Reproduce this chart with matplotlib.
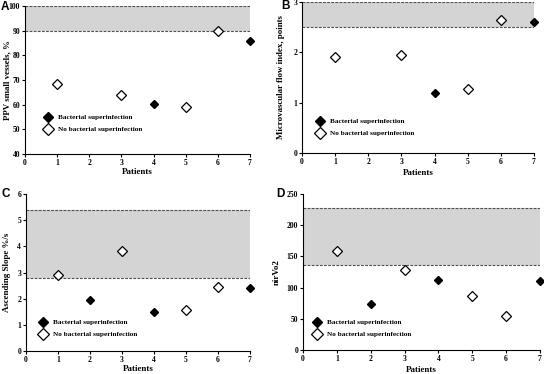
import matplotlib.pyplot as plt

patients_bact = {'A': [4, 7], 'B': [4, 7], 'C': [2, 4, 7], 'D': [2, 4, 7]}
values_bact = {'A': [60.2, 86], 'B': [1.2, 2.6], 'C': [1.95, 1.5, 2.4], 'D': [73, 112, 110]}
patients_none = {'A': [1, 3, 5, 6], 'B': [1, 3, 5, 6], 'C': [1, 3, 5, 6], 'D': [1, 3, 5, 6]}
values_none = {'A': [68.5, 64, 59, 90], 'B': [1.9, 1.95, 1.28, 2.65],
               'C': [2.9, 3.82, 1.55, 2.45], 'D': [158, 128, 87, 55]}
bands = {'A': (90, 100), 'B': (2.5, 3), 'C': (2.78, 5.38), 'D': (136, 227)}
ylims = {'A': (40, 100), 'B': (0, 3), 'C': (0, 6), 'D': (0, 250)}
yticks = {'A': [40, 50, 60, 70, 80, 90, 100], 'B': [0, 1, 2, 3],
          'C': [0, 1, 2, 3, 4, 5, 6], 'D': [0, 50, 100, 150, 200, 250]}
ylabels = {'A': 'PPV small vessels, %', 'B': 'Microvascular flow index, points',
           'C': 'Ascending Slope %/s', 'D': 'nirVo2'}

# layout in pixels
boxes = {'A': (25, 6, 250, 154), 'B': (302, 2, 534, 153),
         'C': (26, 194, 250, 351), 'D': (303, 194, 540, 350)}
ylab_x = {'A': 7, 'B': 281, 'C': 7, 'D': 277}
xlab_y = {'A': 172, 'B': 173, 'C': 369, 'D': 370}
legend_xy = {'A': (48, 118), 'B': (320, 122), 'C': (43, 323), 'D': (317, 323)}
letter_xy = {'A': (1, 1), 'B': (281, 0), 'C': (1, 188), 'D': (276, 188)}

W, H = 544, 374
fig = plt.figure(figsize=(W / 100, H / 100), dpi=100)
serif = 'Liberation Serif'

for key in ['A', 'B', 'C', 'D']:
    l, t, r, b = boxes[key]
    ax = fig.add_axes([l / W, 1 - b / H, (r - l) / W, (b - t) / H])
    lo, hi = bands[key]
    ax.axhspan(lo, hi, color='#d4d4d4', lw=0, zorder=0)
    ax.axhline(lo, color='#505050', ls=(0, (2.5, 1.2)), lw=0.8, zorder=1)
    ax.axhline(hi, color='#505050', ls=(0, (2.5, 1.2)), lw=0.8, zorder=1)
    ax.plot(patients_bact[key], values_bact[key], 'D', color='black', ms=4.2,
            label='Bacterial superinfection', clip_on=False, zorder=3)
    ax.plot(patients_none[key], values_none[key], 'D', mfc='white', mec='black',
            mew=0.9, ms=5, label='No bacterial superinfection', clip_on=False, zorder=3)
    ax.set_xlim(0, 7)
    ax.set_ylim(*ylims[key])
    ax.set_xticks(range(8))
    ax.set_yticks(yticks[key])
    for s in ['top', 'right']:
        ax.spines[s].set_visible(False)
    ax.tick_params(labelsize=5.5, length=2, width=0.8, pad=1.5)
    for lab in ax.get_xticklabels() + ax.get_yticklabels():
        lab.set_fontfamily(serif)
        lab.set_fontweight('bold')
    ax.set_xlabel('Patients', fontsize=6.5, fontweight='bold', family=serif, va='center')
    ax.set_ylabel(ylabels[key], fontsize=6.4, fontweight='bold', family=serif, va='center')
    ax.xaxis.set_label_coords(0.5, -(xlab_y[key] - b) / (b - t))
    ax.yaxis.set_label_coords((ylab_x[key] - l) / (r - l), 0.5)
    mx, my = legend_xy[key]
    ax.legend(loc='upper left', bbox_to_anchor=((mx - 6) / W, 1 - (my - 4) / H),
              bbox_transform=fig.transFigure, frameon=False, borderpad=0, borderaxespad=0,
              prop={'family': serif, 'weight': 'bold', 'size': 5.2},
              handletextpad=0.5, labelspacing=0.85, handlelength=1.7, markerscale=1.3)
    lx, ly = letter_xy[key]
    fig.text(lx / W, 1 - ly / H, key, fontsize=8.5, fontweight='bold',
             family='Liberation Sans', va='top', ha='left')

fig.savefig('out.png', dpi=100)
